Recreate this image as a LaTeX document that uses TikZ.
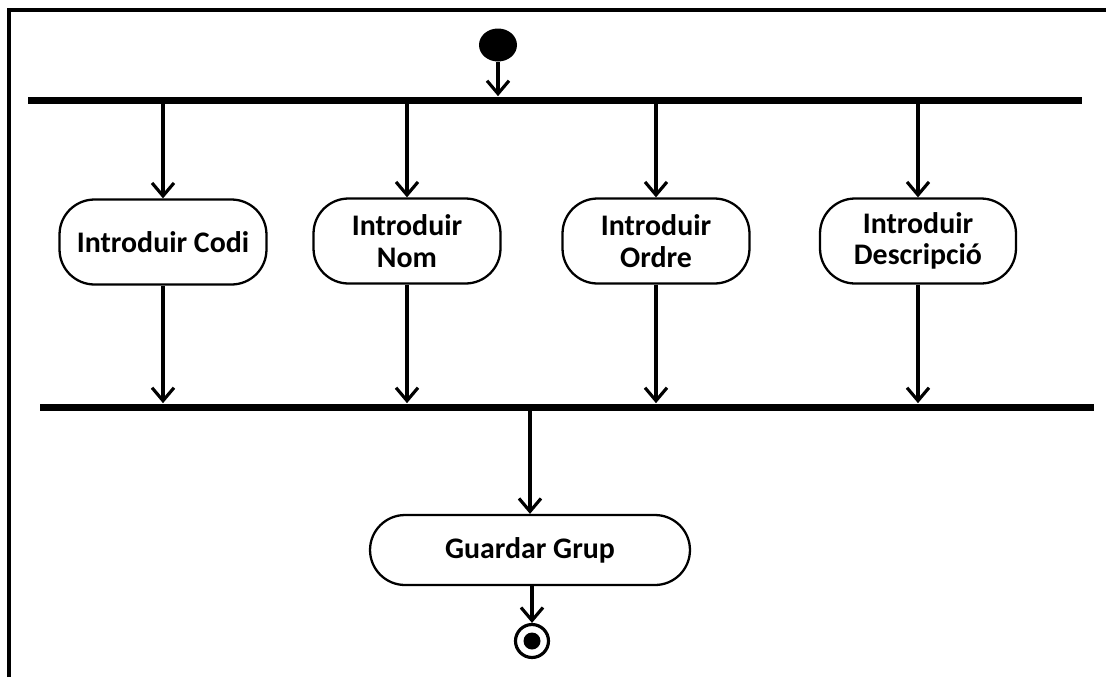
\documentclass[tikz,border=0pt]{standalone}
\usepackage{fontspec}
\setmainfont{Carlito}
\usetikzlibrary{arrows.meta, shapes.geometric}

\begin{document}
\begin{tikzpicture}[
  x = 0.02cm, y = -0.02cm,
  act/.style = {draw, rounded corners = 0.7cm, line width = 1.3pt, align = center,
    minimum height = 1.7cm, inner sep = 2pt,
    font = \bfseries\fontsize{17}{18}\selectfont},
  bar/.style = {fill, inner sep = 0pt, minimum height = 0.14cm, minimum width = 21.1cm},
  flow/.style = {-{Straight Barb[length = 2.6mm, width = 4.4mm]}, line width = 1.8pt}
]
\useasboundingbox (0,0) rectangle (1106,677);
% frame
\draw[line width = 2.3pt] (9,677) -- (9,10) -- (1106,10);

\node[ellipse, fill, inner sep = 0pt, minimum width = 0.76cm, minimum height = 0.66cm] (start) at (498,45) {};
\node[bar] (fork) at (555,100) {};
\node[bar] (join) at (567,407) {};

\node[act, minimum width = 4.14cm] (codi) at (163,242) {Introduir Codi};
\node[act, minimum width = 3.74cm] (nom)  at (407,241) {Introduir\\Nom};
\node[act, minimum width = 3.74cm] (ordre) at (656,241) {Introduir\\Ordre};
\node[act, minimum width = 3.92cm] (desc) at (918,241) {Introduir\\Descripció};

\node[act, minimum width = 6.4cm, minimum height = 1.4cm] (guardar) at (530,550) {Guardar Grup};
\node[circle, draw, line width = 1.8pt, minimum size = 0.66cm, inner sep = 0pt,
  path picture = {\fill (path picture bounding box.center) circle (0.17cm);}] (fin) at (532,641) {};

% connectors
\draw[flow] (start.south) -- (start.south |- fork.north);
\foreach \n in {codi, nom, ordre, desc} {
  \draw[flow] (fork.south -| \n.north) -- (\n.north);
  \draw[flow] (\n.south) -- (\n.south |- join.north);
}
\draw[flow] (join.south -| guardar.north) -- (guardar.north);
\draw[flow] (guardar.south -| fin.north) -- (fin.north);
\end{tikzpicture}
\end{document}
